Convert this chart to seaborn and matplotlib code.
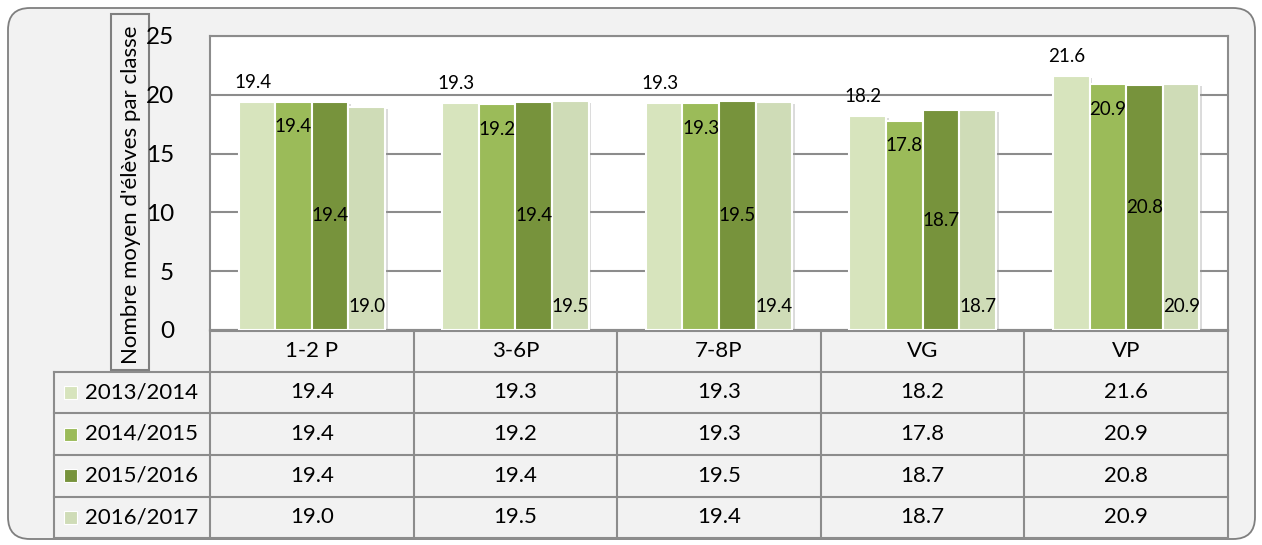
import matplotlib
matplotlib.use("Agg")
import matplotlib.pyplot as plt
import matplotlib.patheffects as pe
from matplotlib.patches import FancyBboxPatch, Rectangle
import pandas as pd
import seaborn as sns

categories = ["1-2 P", "3-6P", "7-8P", "VG", "VP"]
years = ["2013/2014", "2014/2015", "2015/2016", "2016/2017"]
v2013 = [19.4, 19.3, 19.3, 18.2, 21.6]
v2014 = [19.4, 19.2, 19.3, 17.8, 20.9]
v2015 = [19.4, 19.4, 19.5, 18.7, 20.8]
v2016 = [19.0, 19.5, 19.4, 18.7, 20.9]
yticks = [0, 5, 10, 15, 20, 25]
ylabel = "Nombre moyen d'élèves par classe"

colors = ["#d7e4bd", "#9bbb59", "#77933c", "#cfdcb7"]
GRID = "#8c8c8c"
BG = "#f2f2f2"

series = [v2013, v2014, v2015, v2016]
df = pd.DataFrame(
    [(c, y, v) for y, vals in zip(years, series) for c, v in zip(categories, vals)],
    columns=["classe", "annee", "valeur"],
)

plt.rcParams["font.family"] = ["Lato", "DejaVu Sans"]

W, H = 1262, 545
fig = plt.figure(figsize=(W / 100, H / 100), dpi=100, facecolor="white")

# overlay in pixel coordinates for frame + table
over = fig.add_axes([0, 0, 1, 1], zorder=0)
over.set_xlim(0, W)
over.set_ylim(H, 0)
over.axis("off")
over.add_patch(FancyBboxPatch((8, 8), 1247, 531, boxstyle="round,pad=0,rounding_size=22",
                              facecolor=BG, edgecolor="#7f7f7f", linewidth=1.3))

# plot area
x0, x1, ytop, ybot = 210, 1228, 36, 330
ax = fig.add_axes([x0 / W, (H - ybot) / H, (x1 - x0) / W, (ybot - ytop) / H], zorder=1)
ax.set_facecolor("white")

sns.barplot(data=df, x="classe", y="valeur", hue="annee", palette=colors,
            saturation=1, width=0.72, gap=0, edgecolor="white", linewidth=1.5,
            legend=False, ax=ax, zorder=3)

for bars in ax.containers:
    for b in bars:
        b.set_path_effects([pe.SimplePatchShadow(offset=(2, -1.5), shadow_rgbFace="#999999", alpha=0.35),
                            pe.Normal()])

ax.set_ylim(0, 25)
ax.set_xlim(-0.5, len(categories) - 0.5)
ax.set_yticks(yticks)
ax.yaxis.grid(True, color=GRID, linewidth=1.5, zorder=0)
ax.set_axisbelow(True)
ax.tick_params(axis="y", length=0, pad=26, labelsize=17.5)
ax.tick_params(axis="x", length=0, labelbottom=False)
ax.set_xlabel("")
ax.set_ylabel("")
for s in ax.spines.values():
    s.set_color(GRID)
    s.set_linewidth(1.5)

# data labels: outside end, inside end, center, inside base
for i, bars in enumerate(ax.containers):
    for b in bars:
        cx = b.get_x() + b.get_width() / 2
        h = b.get_height()
        txt = f"{h:.1f}"
        if i == 0:
            ax.annotate(txt, (cx, h), xytext=(-3, 14), textcoords="offset points",
                        ha="center", va="center", fontsize=13.5, zorder=5)
        elif i == 1:
            ax.annotate(txt, (cx, h), xytext=(0, -18), textcoords="offset points",
                        ha="center", va="center", fontsize=13.5, zorder=5)
        elif i == 2:
            ax.annotate(txt, (cx, h / 2), ha="center", va="center", fontsize=13.5, zorder=5)
        else:
            ax.annotate(txt, (cx, 0), xytext=(0, 17), textcoords="offset points",
                        ha="center", va="center", fontsize=13.5, zorder=5)

# y label box
over.add_patch(Rectangle((111, 14), 38, 356, facecolor=BG, edgecolor="#7f7f7f", linewidth=1.5))
over.text(131, 195, ylabel, rotation=90, ha="center", va="center", fontsize=16)

# data table
rows = [331, 371.5, 413, 455, 496.5, 538]
tleft = 54
colw = (x1 - x0) / len(categories)
lc = "#8c8c8c"
lw = 1.5
over.plot([x0, x1], [rows[0], rows[0]], color=lc, lw=lw)
for r in rows[1:]:
    over.plot([tleft, x1], [r, r], color=lc, lw=lw)
over.plot([tleft, tleft], [rows[1], rows[-1]], color=lc, lw=lw)
for k in range(len(categories) + 1):
    xx = x0 + k * colw
    over.plot([xx, xx], [rows[0], rows[-1]], color=lc, lw=lw)

for k, c in enumerate(categories):
    over.text(x0 + (k + 0.5) * colw, (rows[0] + rows[1]) / 2, c,
              ha="center", va="center", fontsize=16)

for j, (y, vals) in enumerate(zip(years, series)):
    cy = (rows[j + 1] + rows[j + 2]) / 2
    over.add_patch(Rectangle((64, cy - 6.5), 13, 13, facecolor=colors[j], edgecolor="white", lw=0.8))
    over.text(85, cy, y, ha="left", va="center", fontsize=16)
    for k, v in enumerate(vals):
        over.text(x0 + (k + 0.5) * colw, cy, f"{v:.1f}", ha="center", va="center", fontsize=16)

fig.savefig("out.png", dpi=100, facecolor="white")
